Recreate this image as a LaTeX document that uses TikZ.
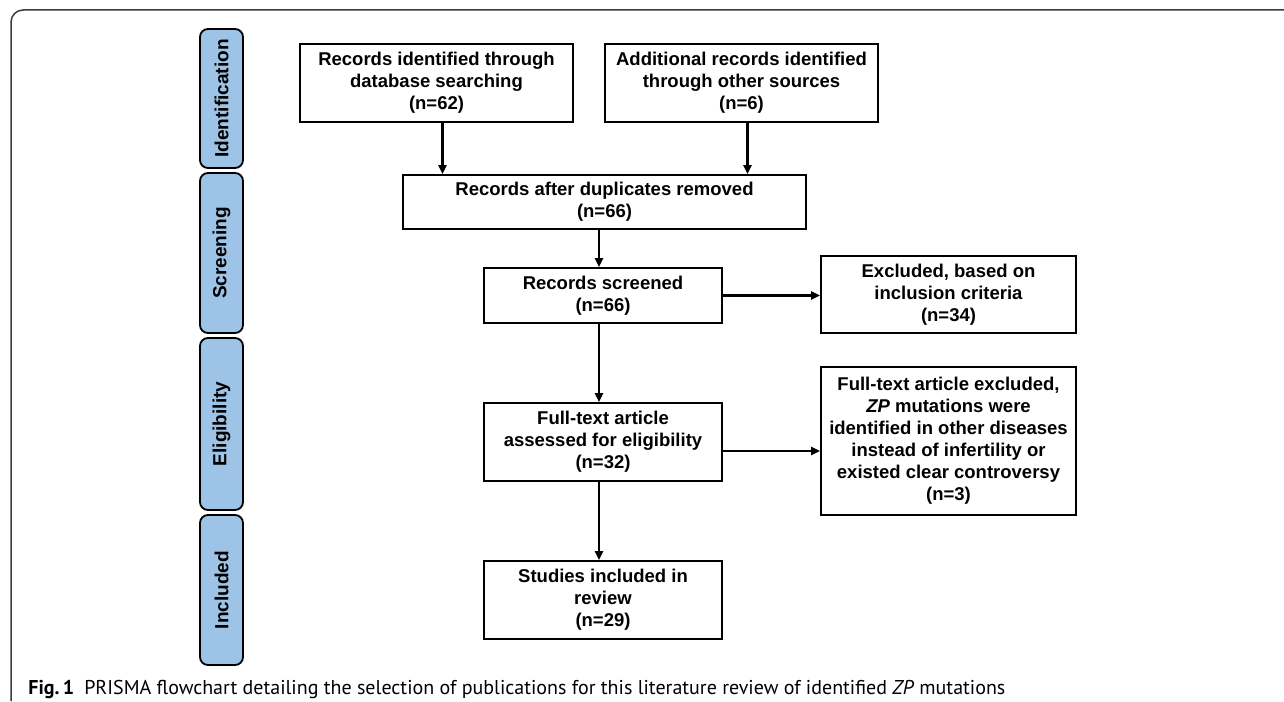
\documentclass[tikz,border=0pt]{standalone}
\usepackage{fontspec}
\setmainfont{Liberation Sans}
\newfontfamily\capfont{PT Sans}
\usetikzlibrary{arrows.meta}
\definecolor{phaseblue}{RGB}{157,195,230}
\definecolor{framegray}{RGB}{60,60,60}

\begin{document}
\begin{tikzpicture}[x=1pt, y=-1pt, ->, >={Triangle[length=9pt,width=8pt]}, line width=2.8pt,
    box/.style = {draw, line width=1.8pt, align=center, inner sep=0pt,
        font=\bfseries\fontsize{18.5}{22}\selectfont},
    phase/.style = {draw, line width=1.8pt, rounded corners=8pt, fill=phaseblue,
        rotate=90, minimum height=43pt, inner sep=0pt,
        font=\bfseries\fontsize{19}{22}\selectfont}]
    \useasboundingbox (0,0) rectangle (1284,701);
    % Frame
    \draw[-, line width=1.5pt, framegray, rounded corners=12pt] (11,701) -- (11,10) -- (1290,10);

    % Phases
    \node[phase, minimum width=139pt] (ident) at (221.5, 98.5) {Identification};
    \node[phase, minimum width=160pt] (screen) at (221.5, 253) {Screening};
    \node[phase, minimum width=172pt] (elig) at (221.5, 424) {Eligibility};
    \node[phase, minimum width=150pt] (incl) at (221.5, 590) {Included};

    % Nodes
    \node[box, minimum width=273pt, minimum height=78pt] (db) at (436.5, 83)
        {Records identified through\\ database searching\\ (n=62)};
    \node[box, minimum width=273pt, minimum height=78pt] (other) at (741.5, 83)
        {Additional records identified\\ through other sources\\ (n=6)};
    \node[box, minimum width=403pt, minimum height=54pt] (dup) at (604.5, 202)
        {Records after duplicates removed\\ (n=66)};
    \node[box, minimum width=238pt, minimum height=55pt] (screened) at (603, 295.5)
        {Records screened\\ (n=66)};
    \node[box, minimum width=255pt, minimum height=77pt] (exclA) at (948.5, 294.5)
        {Excluded, based on\\ inclusion criteria\\ (n=34)};
    \node[box, minimum width=238pt, minimum height=78pt] (fulltext) at (603, 442)
        {Full-text article\\ assessed for eligibility\\ (n=32)};
    \node[box, minimum width=255pt, minimum height=148pt] (exclB) at (948.5, 441)
        {Full-text article excluded,\\ \textit{ZP} mutations were\\ identified in other diseases\\
         instead of infertility or\\ existed clear controversy\\ (n=3)};
    \node[box, minimum width=238pt, minimum height=78pt] (studies) at (603, 600)
        {Studies included in\\ review\\ (n=29)};

    % Caption
    \node[anchor=base west, inner sep=0pt, font=\capfont\fontsize{20}{24}\selectfont] (cap) at (27, 694)
        {\textbf{Fig.\,1}\enspace PRISMA flowchart detailing the selection of publications for this literature review of identified \textit{ZP} mutations};

    % Edges
    \draw ([xshift=6pt]db.south) -- ([xshift=6pt]db.south |- dup.north);
    \draw ([xshift=6pt]other.south) -- ([xshift=6pt]other.south |- dup.north);
    \draw ([xshift=-4pt]screened.north |- dup.south) -- ([xshift=-4pt]screened.north);
    \draw ([xshift=-4pt]screened.south) -- ([xshift=-4pt]fulltext.north);
    \draw ([xshift=-4pt]fulltext.south) -- ([xshift=-4pt]studies.north);
    \draw (screened.east) -- (screened.east -| exclA.west);
    \draw ([yshift=-9pt]fulltext.east) -- ([yshift=-9pt]fulltext.east -| exclB.west);
\end{tikzpicture}
\end{document}
